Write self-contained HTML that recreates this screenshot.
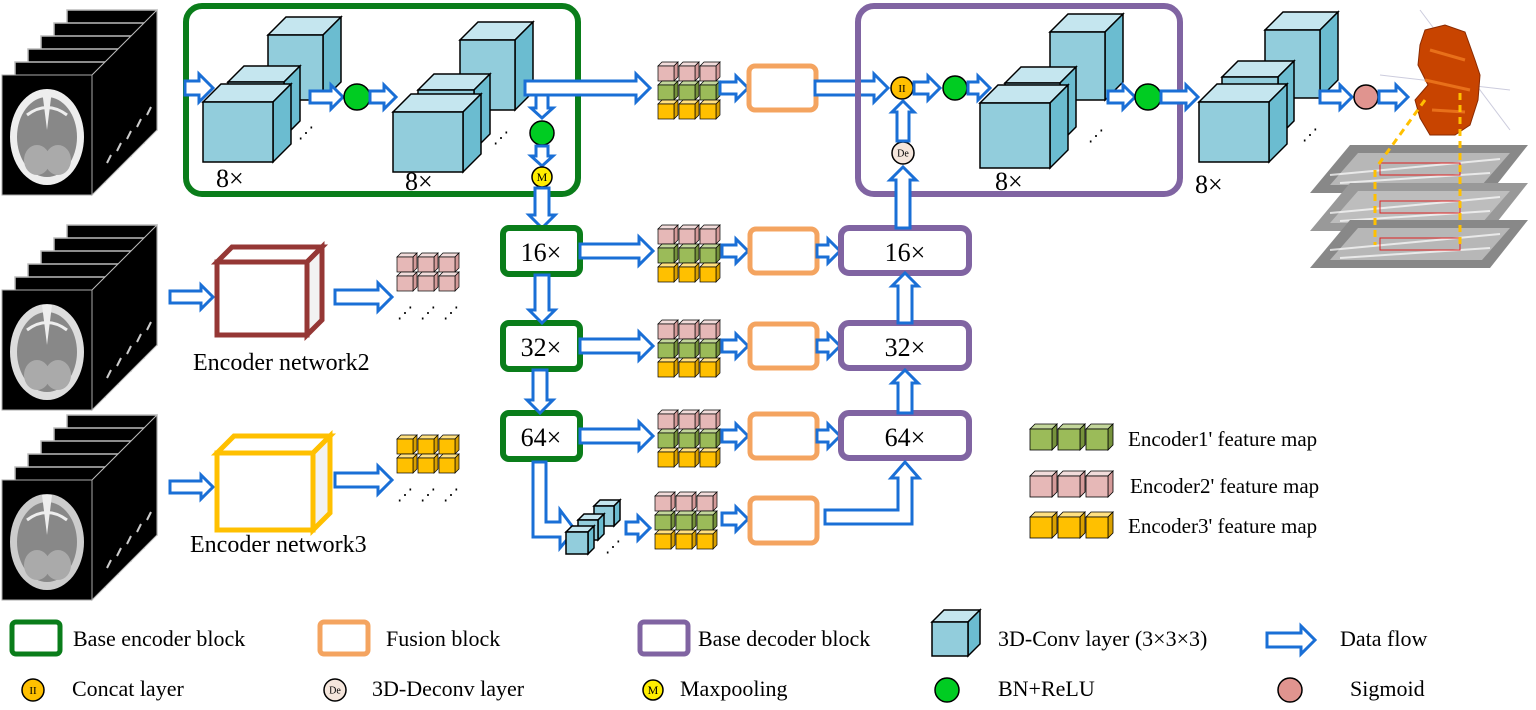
<!DOCTYPE html>
<html><head><meta charset="utf-8"><style>
body{margin:0;background:#fff}
svg{display:block}
text{font-family:"Liberation Serif",serif;fill:#000}
</style></head><body>
<svg id="s" width="1536" height="710" viewBox="0 0 1536 710" xmlns="http://www.w3.org/2000/svg"></svg>
<script>
const S=document.getElementById('s');let h='';
const BL='#1a6fd6';
function cube(x,y,w,hh,d,f,t,sd,sw){sw=sw||1.5;
h+=`<polygon points="${x},${y} ${x+d},${y-d} ${x+w+d},${y-d} ${x+w},${y}" fill="${t}" stroke="#000" stroke-width="${sw}"/>`;
h+=`<polygon points="${x+w},${y} ${x+w+d},${y-d} ${x+w+d},${y+hh-d} ${x+w},${y+hh}" fill="${sd}" stroke="#000" stroke-width="${sw}"/>`;
h+=`<rect x="${x}" y="${y}" width="${w}" height="${hh}" fill="${f}" stroke="#000" stroke-width="${sw}"/>`;}
function bc(x,y,w,hh,d){cube(x,y,w,hh,d,'#92cddc','#c5e6ef','#6bbcd0');}
function arrow(x1,y1,x2,y2,b,hd,hl){b=b||7;hd=hd||14;hl=hl||14;
const L=Math.hypot(x2-x1,y2-y1),a=Math.atan2(y2-y1,x2-x1)*180/Math.PI;
h+=`<path transform="translate(${x1},${y1}) rotate(${a})" d="M0,${-b} L${L-hl},${-b} L${L-hl},${-hd} L${L},0 L${L-hl},${hd} L${L-hl},${b} L0,${b} Z" fill="#fff" stroke="${BL}" stroke-width="3" stroke-linejoin="miter"/>`;}
function circ(x,y,r,f,t,fs){h+=`<circle cx="${x}" cy="${y}" r="${r}" fill="${f}" stroke="#000" stroke-width="1.5"/>`;if(t)h+=`<text x="${x}" y="${y+fs*0.35}" font-size="${fs}" text-anchor="middle">${t}</text>`;}
function rbox(x,y,w,hh,c,sw,r){h+=`<rect x="${x}" y="${y}" width="${w}" height="${hh}" rx="${r}" fill="none" stroke="${c}" stroke-width="${sw}"/>`;}
function txt(x,y,s,fs,anc){h+=`<text x="${x}" y="${y}" font-size="${fs}" ${anc?'text-anchor="'+anc+'"':''}>${s}</text>`;}
const PK=['#e6b8b7','#f2dcdb','#d49a99'],GR=['#9bbb59','#c3d69b','#76923c'],YL=['#ffc000','#ffe080','#d9a000'];
function fm(x,y,rows){rows.forEach((c,r)=>{for(let i=0;i<3;i++)cube(x+i*21,y+r*19+4,16,15,4,c[0],c[1],c[2],0.7);});}
function dots(x,y){h+=`<text x="${x}" y="${y}" font-size="16">⋰</text>`;}
function mri(x,y,bright){
for(let i=5;i>=1;i--){h+=`<rect x="${x+i*13}" y="${y-i*13}" width="90" height="120" fill="#000" stroke="#bbb" stroke-width="1.5"/>`;}
h+=`<polygon points="${x+90},${y} ${x+155},${y-65} ${x+155},${y+55} ${x+90},${y+120}" fill="#000" stroke="#bbb"/>`;
h+=`<rect x="${x}" y="${y}" width="90" height="120" fill="#000" stroke="#aaa"/>`;
h+=`<ellipse cx="${x+45}" cy="${y+62}" rx="37" ry="48" fill="${bright}" />`;
h+=`<ellipse cx="${x+45}" cy="${y+62}" rx="30" ry="40" fill="#888"/>`;
h+=`<ellipse cx="${x+35}" cy="${y+85}" rx="13" ry="15" fill="#aaa"/><ellipse cx="${x+56}" cy="${y+85}" rx="13" ry="15" fill="#aaa"/>`;
h+=`<path d="M${x+40},${y+15} l5,40 l5,-40" fill="#eee"/>`;
h+=`<path d="M${x+25},${y+40} q20,-15 40,0" stroke="#eee" stroke-width="3" fill="none"/>`;
for(let i=1;i<6;i++)h+=`<path d="M${x+95+i*10},${y+100-i*12} l4,-8" stroke="#ccc" stroke-width="2"/>`;}
mri(2,75,'#eee');mri(2,290,'#ddd');mri(2,480,'#ccc');
rbox(186,6,392,188,'#0a7d1a',6,16);
bc(268,35,55,65,18);bc(228,82,56,55,16);bc(203,102,70,60,18);dots(298,138);
arrow(185,88,213,88);arrow(310,97,343,97,6,12,12);circ(357,97,13,'#00cc22');arrow(370,97,396,97,6,12,12);
bc(460,40,55,70,18);bc(418,90,56,60,16);bc(393,112,70,60,18);dots(493,143);
txt(216,187,'8×',26);txt(405,190,'8×',26);
arrow(525,88,650,88);arrow(542,95,542,118,6,11,10);circ(542,133,12,'#00cc22');arrow(542,146,542,166,6,11,10);
circ(542,177,10,'#ffee00','M',12);arrow(542,188,542,228,7,13,13);
fm(658,62,[PK,GR,YL]);arrow(720,88,748,88,6,12,12);rbox(749,66,67,44,'#f4a460',5,6);arrow(815,88,888,88);
const rows=[[228,'16×'],[323,'32×'],[413,'64×']];
rows.forEach(([y,t],i)=>{rbox(503,y,77,46,'#0a7d1a',6,6);txt(541,y+33,t,26,'middle');
arrow(580,y+23,653,y+23);fm(658,y-3,[PK,GR,YL]);arrow(722,y+23,748,y+23,6,12,12);rbox(750,y+1,67,44,'#f4a460',5,6);
arrow(817,y+23,840,y+23,6,12,12);rbox(841,y,128,45,'#8064a2',6,8);txt(905,y+33,t,26,'middle');});
arrow(542,275,542,323,7,13,13);arrow(540,370,540,413,7,13,13);
arrow(905,323,905,273,7,13,13);arrow(905,413,905,370,7,13,13);
h+=`<path d="M533,462 L546,462 L546,522 L560,522 L560,510 L575,530 L560,548 L560,537 L533,537 Z" fill="#fff" stroke="${BL}" stroke-width="3"/>`;
bc(594,506,20,20,6);bc(578,520,20,20,6);bc(566,532,22,22,6);dots(605,552);
arrow(626,528,650,528,6,12,12);fm(655,492,[PK,GR,YL]);arrow(722,519,748,519,6,12,12);rbox(750,498,67,45,'#f4a460',5,6);
h+=`<path d="M825,510 L898,510 L898,478 L891,478 L905,462 L919,478 L912,478 L912,524 L825,524 Z" fill="#fff" stroke="${BL}" stroke-width="3"/>`;
rbox(858,6,322,188,'#8064a2',6,16);
circ(902,88,11,'#ffc000','II',11);arrow(914,88,940,88,6,12,12);circ(955,88,12,'#00cc22');arrow(968,88,990,88,6,12,12);
arrow(903,228,903,167,7,13,13);circ(903,153,11,'#f5e6dc','De',10);arrow(903,141,903,101,6,11,11);
bc(1050,32,55,68,18);bc(1005,83,55,60,16);bc(980,103,70,65,18);dots(1088,141);
arrow(1108,97,1135,97,6,12,12);circ(1148,97,13,'#00cc22');arrow(1161,97,1198,97,6,12,12);
txt(995,190,'8×',26);
bc(1265,30,55,68,18);bc(1222,77,56,60,16);bc(1199,102,70,60,18);dots(1302,140);txt(1195,193,'8×',26);
arrow(1320,97,1352,97,6,12,12);circ(1366,97,12,'#e0948f');arrow(1379,97,1408,97,6,12,12);
[[145,'#888'],[183,'#999'],[220,'#888']].forEach(([y,c])=>{h+=`<polygon points="${1310},${y+48} ${1350},${y} ${1528},${y} ${1490},${y+48}" fill="${c}"/>`;
h+=`<polygon points="${1330},${y+40} ${1358},${y+8} ${1510},${y+8} ${1482},${y+40}" fill="#ccc" opacity=".7"/>`;
h+=`<path d="M1330,${y+30} L1500,${y+14} M1340,${y+38} L1490,${y+28}" stroke="#fff" stroke-width="2" opacity=".7"/>`;
h+=`<path d="M1380,${y+18} L1460,${y+18} L1460,${y+30} L1380,${y+30} Z" fill="none" stroke="#d22" stroke-width="1"/>`;});
h+=`<line x1="1420" y1="10" x2="1510" y2="130" stroke="#ccd" /><line x1="1380" y1="75" x2="1510" y2="90" stroke="#ccd"/>`;
h+=`<path d="M1425,30 L1445,25 L1465,32 L1475,60 L1480,75 L1478,100 L1470,125 L1455,135 L1430,135 L1420,118 L1415,100 L1428,85 L1418,65 L1420,45 Z" fill="#c84400" stroke="#8a2a00"/>`;
h+=`<path d="M1430,50 L1465,60 M1425,80 L1470,90 M1432,110 L1465,112" stroke="#e8701a" stroke-width="3"/>`;
h+=`<path d="M1425,100 L1378,165 M1460,93 L1460,245 M1375,170 L1375,245" stroke="#ffc000" stroke-width="3" stroke-dasharray="7,5" fill="none"/>`;
arrow(170,297,213,297,6,12,12);
h+=`<polygon points="217,262 232,247 322,247 307,262" fill="#fff" stroke="#953735" stroke-width="5"/><polygon points="307,262 322,247 322,320 307,335" fill="#f2f2f2" stroke="#953735" stroke-width="5"/><rect x="217" y="262" width="90" height="73" fill="#fff" stroke="#953735" stroke-width="5"/>`;
arrow(335,297,392,297);fm(397,253,[PK,PK]);dots(397,318);dots(420,318);dots(443,318);
txt(193,370,'Encoder network2',24);
arrow(170,487,213,487,6,12,12);
h+=`<polygon points="217,453 234,436 330,436 313,453" fill="#fff" stroke="#ffc000" stroke-width="5"/><polygon points="313,453 330,436 330,513 313,530" fill="#f2f2f2" stroke="#ffc000" stroke-width="5"/><rect x="217" y="453" width="96" height="77" fill="#fff" stroke="#ffc000" stroke-width="5"/>`;
arrow(335,480,392,480);fm(397,435,[YL,YL]);dots(397,500);dots(420,500);dots(443,500);
txt(190,552,'Encoder network3',24);
[[425,GR,"Encoder1' feature map",1128,446],[472,PK,"Encoder2' feature map",1130,493],[513,YL,"Encoder3' feature map",1128,533]].forEach(([y,c,t,tx,ty])=>{for(let i=0;i<3;i++)cube(1030+i*28,y+4,22,21,5,c[0],c[1],c[2],0.8);txt(tx,ty,t,21);});
rbox(12,622,48,32,'#0a7d1a',5,4);txt(73,646,'Base encoder block',22);
rbox(320,622,48,32,'#f4a460',5,4);txt(386,646,'Fusion block',22);
rbox(640,622,48,32,'#8064a2',5,4);txt(698,646,'Base decoder block',22);
bc(932,622,36,34,12);txt(998,646,'3D-Conv layer (3×3×3)',22);
arrow(1267,640,1315,640);txt(1340,646,'Data flow',22);
circ(33,690,11,'#ffc000','II',11);txt(72,696,'Concat layer',22);
circ(335,690,11,'#f5e6dc','De',10);txt(372,696,'3D-Deconv layer',22);
circ(653,690,10,'#ffee00','M',12);txt(680,696,'Maxpooling',22);
circ(947,690,12,'#00cc22');txt(998,696,'BN+ReLU',22);
circ(1290,690,12,'#e0948f');txt(1350,696,'Sigmoid',22);
S.innerHTML=h;
</script>
</body></html>
